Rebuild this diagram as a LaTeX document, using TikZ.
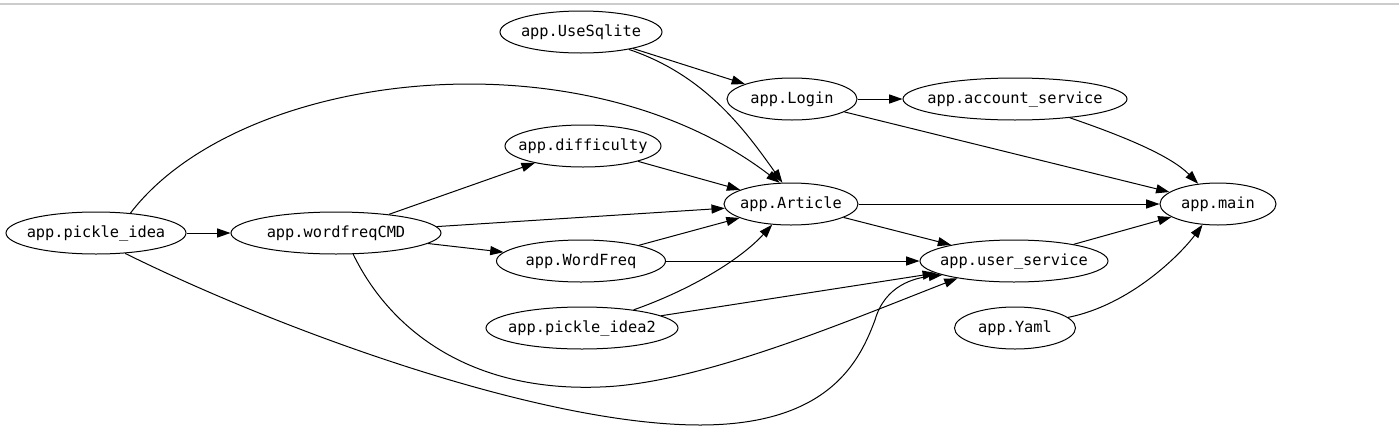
\documentclass[tikz,border=0pt]{standalone}
\usepackage{fontspec}
\setmonofont{DejaVu Sans Mono}
\usetikzlibrary{shapes.geometric,arrows.meta}
\begin{document}
\begin{tikzpicture}[x=0.75pt,y=-0.75pt,
  mod/.style={ellipse,draw,line width=0.75pt,inner sep=0pt,minimum height=31.5pt,
    font=\ttfamily\fontsize{11.5}{13}\selectfont},
  ew/.style={minimum width=#1*0.75pt},
  arr/.style={draw,line width=0.75pt,-{Triangle[length=10pt,width=6.8pt]}}]
\useasboundingbox (0,0) rectangle (1399,443);
\draw[gray!40,line width=1.5pt] (0,3.5) -- (1399,3.5);

\node[mod,ew=162] (us)  at (581,32)   {\makebox[0pt]{app.UseSqlite}};
\node[mod,ew=130] (lg)  at (792,99)   {\makebox[0pt]{app.Login}};
\node[mod,ew=224] (acc) at (1015,99)  {\makebox[0pt]{app.account\_service}};
\node[mod,ew=156] (dif) at (583,146)  {\makebox[0pt]{app.difficulty}};
\node[mod,ew=134] (art) at (791,204)  {\makebox[0pt]{app.Article}};
\node[mod,ew=116] (mn)  at (1218,204) {\makebox[0pt]{app.main}};
\node[mod,ew=180] (pi)  at (96,233)   {\makebox[0pt]{app.pickle\_idea}};
\node[mod,ew=210] (wf)  at (336,233)  {\makebox[0pt]{app.wordfreqCMD}};
\node[mod,ew=169] (wq)  at (581,261)  {\makebox[0pt]{app.WordFreq}};
\node[mod,ew=188] (usr) at (1014,261) {\makebox[0pt]{app.user\_service}};
\node[mod,ew=192] (p2)  at (582,328)  {\makebox[0pt]{app.pickle\_idea2}};
\node[mod,ew=121] (ym)  at (1015,328) {\makebox[0pt]{app.Yaml}};

\draw[arr] (us) -- (lg);
\draw[arr] (us.-20) .. controls (705,75) and (745,130) .. (art.112);
\draw[arr] (lg) -- (acc);
\draw[arr] (lg) -- (mn);
\draw[arr] (acc) .. controls (1120,135) and (1170,155) .. (mn);
\draw[arr] (pi.30) .. controls (240,70) and (580,30) .. (art.118);
\draw[arr] (pi) -- (wf);
\draw[arr] (pi.-35) .. controls (280,330) and (540,425) .. (700,425)
   .. controls (830,425) and (860,360) .. (875,320)
   .. controls (885,285) and (915,278) .. (usr.191);
\draw[arr] (wf) -- (dif);
\draw[arr] (wf) -- (art);
\draw[arr] (wf) -- (wq);
\draw[arr] (wf.-51) .. controls (390,330) and (470,392) .. (600,387)
   .. controls (700,384) and (850,320) .. (usr.197);
\draw[arr] (dif) -- (art);
\draw[arr] (wq) -- (art);
\draw[arr] (wq) -- (usr);
\draw[arr] (p2) .. controls (690,290) and (740,260) .. (art);
\draw[arr] (p2) -- (usr);
\draw[arr] (art) -- (mn);
\draw[arr] (art) -- (usr);
\draw[arr] (usr) -- (mn);
\draw[arr] (ym) .. controls (1130,305) and (1180,255) .. (mn);
\end{tikzpicture}
\end{document}
